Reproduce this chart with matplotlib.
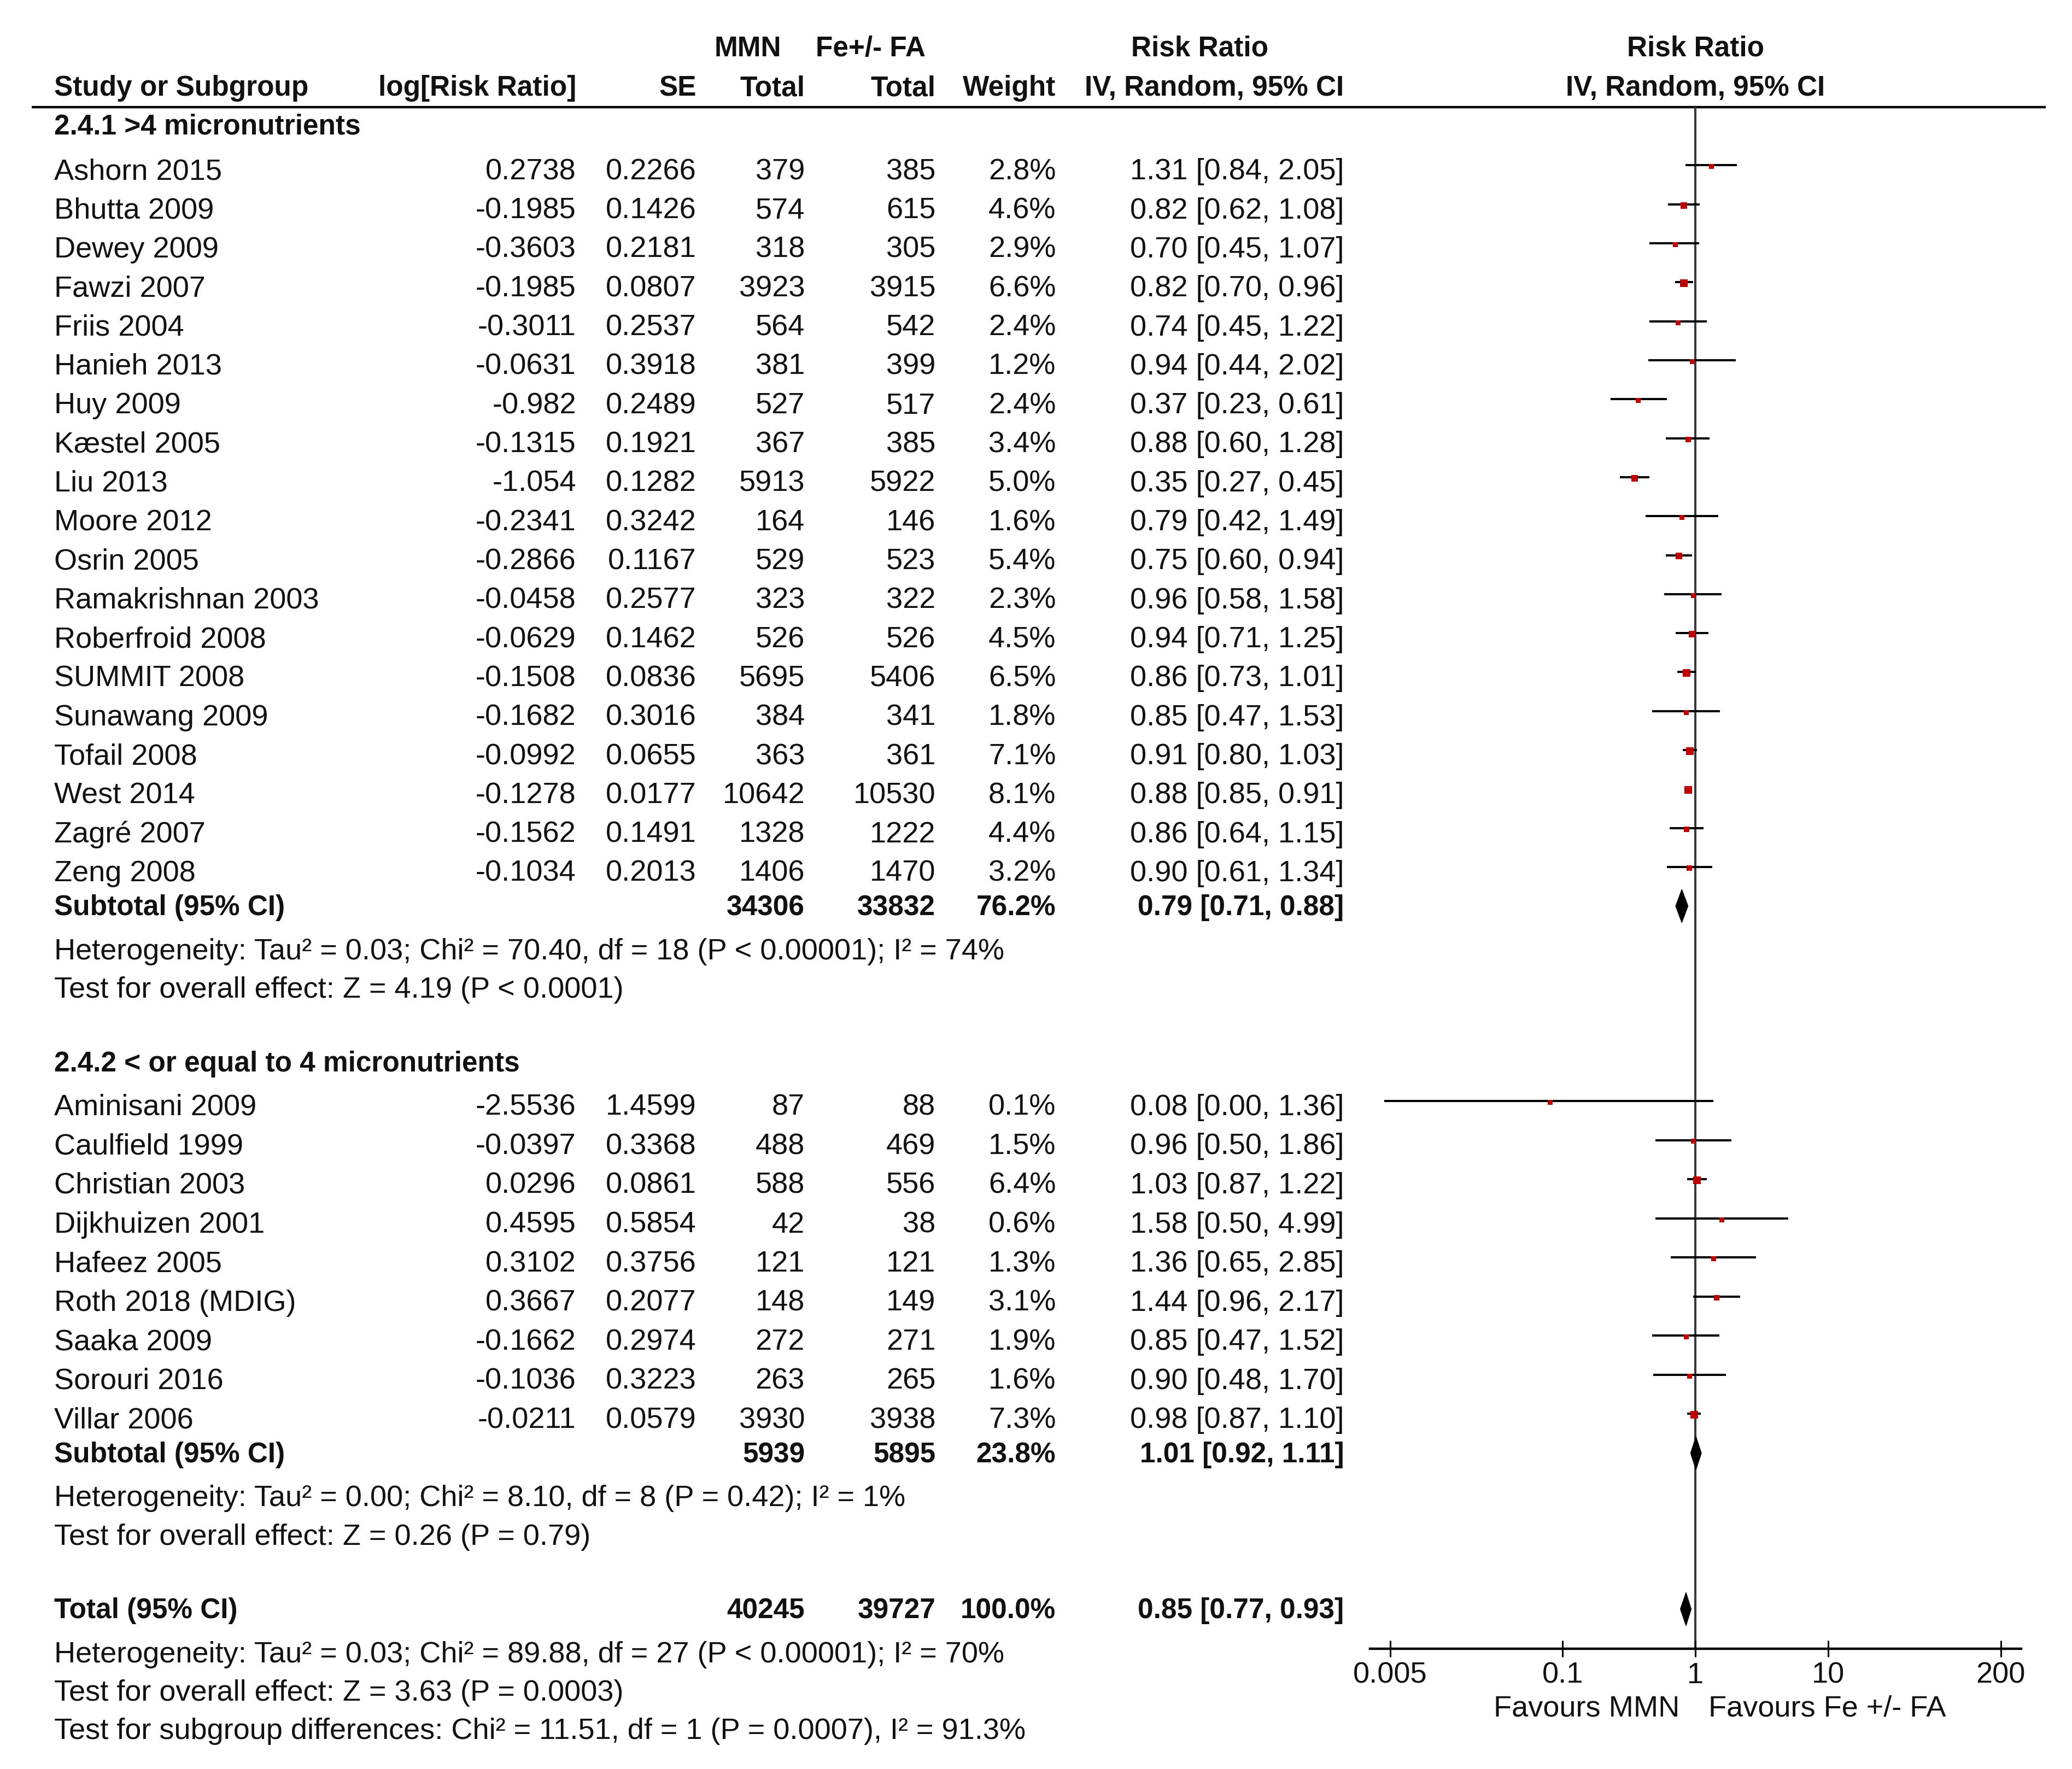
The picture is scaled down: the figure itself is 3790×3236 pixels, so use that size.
import numpy as np
import matplotlib
matplotlib.use("Agg")
import matplotlib.pyplot as plt
from matplotlib.patches import Polygon
from matplotlib.ticker import FixedLocator, NullLocator

plt.rcParams['font.family'] = ['Liberation Sans', 'DejaVu Sans']

# ── data ──────────────────────────────────────────────────────────────────
names1 = ["Ashorn 2015", "Bhutta 2009", "Dewey 2009", "Fawzi 2007", "Friis 2004",
          "Hanieh 2013", "Huy 2009", "Kæstel 2005", "Liu 2013", "Moore 2012",
          "Osrin 2005", "Ramakrishnan 2003", "Roberfroid 2008", "SUMMIT 2008",
          "Sunawang 2009", "Tofail 2008", "West 2014", "Zagré 2007", "Zeng 2008"]
logrr1 = [0.2738, -0.1985, -0.3603, -0.1985, -0.3011, -0.0631, -0.982, -0.1315, -1.054,
          -0.2341, -0.2866, -0.0458, -0.0629, -0.1508, -0.1682, -0.0992, -0.1278, -0.1562, -0.1034]
se1 = [0.2266, 0.1426, 0.2181, 0.0807, 0.2537, 0.3918, 0.2489, 0.1921, 0.1282, 0.3242,
       0.1167, 0.2577, 0.1462, 0.0836, 0.3016, 0.0655, 0.0177, 0.1491, 0.2013]
nmmn1 = [379, 574, 318, 3923, 564, 381, 527, 367, 5913, 164, 529, 323, 526, 5695, 384, 363, 10642, 1328, 1406]
nctl1 = [385, 615, 305, 3915, 542, 399, 517, 385, 5922, 146, 523, 322, 526, 5406, 341, 361, 10530, 1222, 1470]
w1 = [2.8, 4.6, 2.9, 6.6, 2.4, 1.2, 2.4, 3.4, 5.0, 1.6, 5.4, 2.3, 4.5, 6.5, 1.8, 7.1, 8.1, 4.4, 3.2]
rr1 = [1.31, 0.82, 0.70, 0.82, 0.74, 0.94, 0.37, 0.88, 0.35, 0.79, 0.75, 0.96, 0.94, 0.86, 0.85, 0.91, 0.88, 0.86, 0.90]
lo1 = [0.84, 0.62, 0.45, 0.70, 0.45, 0.44, 0.23, 0.60, 0.27, 0.42, 0.60, 0.58, 0.71, 0.73, 0.47, 0.80, 0.85, 0.64, 0.61]
hi1 = [2.05, 1.08, 1.07, 0.96, 1.22, 2.02, 0.61, 1.28, 0.45, 1.49, 0.94, 1.58, 1.25, 1.01, 1.53, 1.03, 0.91, 1.15, 1.34]

names2 = ["Aminisani 2009", "Caulfield 1999", "Christian 2003", "Dijkhuizen 2001", "Hafeez 2005",
          "Roth 2018 (MDIG)", "Saaka 2009", "Sorouri 2016", "Villar 2006"]
logrr2 = [-2.5536, -0.0397, 0.0296, 0.4595, 0.3102, 0.3667, -0.1662, -0.1036, -0.0211]
se2 = [1.4599, 0.3368, 0.0861, 0.5854, 0.3756, 0.2077, 0.2974, 0.3223, 0.0579]
nmmn2 = [87, 488, 588, 42, 121, 148, 272, 263, 3930]
nctl2 = [88, 469, 556, 38, 121, 149, 271, 265, 3938]
w2 = [0.1, 1.5, 6.4, 0.6, 1.3, 3.1, 1.9, 1.6, 7.3]
rr2 = [0.08, 0.96, 1.03, 1.58, 1.36, 1.44, 0.85, 0.90, 0.98]
lo2 = [0.0045, 0.50, 0.87, 0.50, 0.65, 0.96, 0.47, 0.48, 0.87]
hi2 = [1.36, 1.86, 1.22, 4.99, 2.85, 2.17, 1.52, 1.70, 1.10]

# subtotal / total: n_mmn, n_ctl, weight, rr, lo, hi
sub1 = (34306, 33832, 76.2, 0.79, 0.71, 0.88)
sub2 = (5939, 5895, 23.8, 1.01, 0.92, 1.11)
total = (40245, 39727, 100.0, 0.85, 0.77, 0.93)

het1 = ["Heterogeneity: Tau² = 0.03; Chi² = 70.40, df = 18 (P < 0.00001); I² = 74%",
        "Test for overall effect: Z = 4.19 (P < 0.0001)"]
het2 = ["Heterogeneity: Tau² = 0.00; Chi² = 8.10, df = 8 (P = 0.42); I² = 1%",
        "Test for overall effect: Z = 0.26 (P = 0.79)"]
het_tot = ["Heterogeneity: Tau² = 0.03; Chi² = 89.88, df = 27 (P < 0.00001); I² = 70%",
           "Test for overall effect: Z = 3.63 (P = 0.0003)",
           "Test for subgroup differences: Chi² = 11.51, df = 1 (P = 0.0007), I² = 91.3%"]

tick_vals = [0.005, 0.1, 1, 10, 200]
tick_labels = ["0.005", "0.1", "1", "10", "200"]

# ── layout (page coordinates, 1568 x 1339 units) ──────────────────────────
W, H = 1568, 1339
FS = 39      # regular text
FSB = 37     # bold text
TXT = "#111111"
RED = "#c00000"
x_name, x_lrr, x_se, x_n1, x_n2, x_w, x_ci = 41, 436, 527, 609, 708, 799, 1017
x_one, dec = 1283, 100.4
fx0, fx1, fy0, fy1 = 1036.8, 1529.6, 81.5, 1248

fig = plt.figure(figsize=(37.9, 32.37), dpi=100)
ax = fig.add_axes([0, 0, 1, 1])
ax.set_xlim(0, W)
ax.set_ylim(H, 0)
ax.axis("off")

axf = fig.add_axes([fx0 / W, 1 - fy1 / H, (fx1 - fx0) / W, (fy1 - fy0) / H])
axf.set_xscale("log")
axf.set_xlim(10 ** ((fx0 - x_one) / dec), 10 ** ((fx1 - x_one) / dec))
axf.set_ylim(fy1, fy0)
axf.patch.set_alpha(0)
for s in ["left", "right", "top"]:
    axf.spines[s].set_visible(False)
axf.spines["bottom"].set_linewidth(3.2)
axf.yaxis.set_visible(False)
axf.xaxis.set_major_locator(FixedLocator(tick_vals))
axf.xaxis.set_minor_locator(NullLocator())
axf.set_xticklabels(tick_labels)
axf.tick_params(axis="x", direction="inout", length=21, width=2.2, pad=6,
                labelsize=FS, labelcolor=TXT)
axf.axvline(1, color="#3a3a3a", lw=2.9, zorder=1)


def t(x, y, s, ha="left", bold=False):
    ax.text(x, y, s, ha=ha, va="center", fontsize=FSB if bold else FS, color=TXT,
            fontweight="bold" if bold else "normal")


# header
t(566, 37, "MMN", ha="center", bold=True)
t(659, 37, "Fe+/- FA", ha="center", bold=True)
t(908, 37, "Risk Ratio", ha="center", bold=True)
t(x_one, 37, "Risk Ratio", ha="center", bold=True)
t(x_name, 67, "Study or Subgroup", bold=True)
t(x_lrr, 67, "log[Risk Ratio]", ha="right", bold=True)
t(x_se, 67, "SE", ha="right", bold=True)
t(x_n1, 67, "Total", ha="right", bold=True)
t(x_n2, 67, "Total", ha="right", bold=True)
t(x_w, 67, "Weight", ha="right", bold=True)
t(x_ci, 67, "IV, Random, 95% CI", ha="right", bold=True)
t(x_one, 67, "IV, Random, 95% CI", ha="center", bold=True)
ax.plot([24, 1548], [fy0, fy0], color="black", lw=3.2, solid_capstyle="butt")


def study_rows(y0, step, names, lrr, se, n1, n2, w, rr, lo, hi):
    for i in range(len(names)):
        y = y0 + step * i
        t(x_name, y, names[i])
        t(x_lrr, y, str(lrr[i]), ha="right")
        t(x_se, y, f"{se[i]:.4f}", ha="right")
        t(x_n1, y, str(n1[i]), ha="right")
        t(x_n2, y, str(n2[i]), ha="right")
        t(x_w, y, f"{w[i]:.1f}%", ha="right")
        t(x_ci, y, f"{rr[i]:.2f} [{lo[i]:.2f}, {hi[i]:.2f}]", ha="right")
        yl = y - 4.5
        axf.plot([lo[i], hi[i]], [yl, yl], color="black", lw=2.9, solid_capstyle="butt", zorder=2)
        # square area ~ weight, with a minimum size (pixels -> points)
        ms = 0.72 * max(9.0, 5.2 * np.sqrt(w[i]))
        axf.plot([rr[i]], [yl + 0.8], marker="s", ms=ms, color=RED, mec=RED, mew=0, zorder=3)


def summary_row(y, label, vals):
    n1, n2, w, rr, lo, hi = vals
    t(x_name, y, label, bold=True)
    t(x_n1, y, str(n1), ha="right", bold=True)
    t(x_n2, y, str(n2), ha="right", bold=True)
    t(x_w, y, f"{w:.1f}%", ha="right", bold=True)
    t(x_ci, y, f"{rr:.2f} [{lo:.2f}, {hi:.2f}]", ha="right", bold=True)
    yd = y - 1
    axf.add_patch(Polygon([(lo, yd), (rr, yd - 12.6), (hi, yd), (rr, yd + 12.6)],
                          closed=True, facecolor="black", edgecolor="black", lw=0.8, zorder=3))


# subgroup 1
t(x_name, 96, "2.4.1 >4 micronutrients", bold=True)
study_rows(130, 29.5, names1, logrr1, se1, nmmn1, nctl1, w1, rr1, lo1, hi1)
summary_row(687, "Subtotal (95% CI)", sub1)
t(x_name, 720, het1[0])
t(x_name, 749, het1[1])

# subgroup 2
t(x_name, 805, "2.4.2 < or equal to 4 micronutrients", bold=True)
study_rows(838, 29.6, names2, logrr2, se2, nmmn2, nctl2, w2, rr2, lo2, hi2)
summary_row(1101, "Subtotal (95% CI)", sub2)
t(x_name, 1134, het2[0])
t(x_name, 1163, het2[1])

# overall
summary_row(1219, "Total (95% CI)", total)
for k, line in enumerate(het_tot):
    t(x_name, 1252 + 29 * k, line)

t(1271, 1293, "Favours MMN", ha="right")
t(1293, 1293, "Favours Fe +/- FA", ha="left")

fig.savefig("out.png", dpi=100, facecolor="white")
